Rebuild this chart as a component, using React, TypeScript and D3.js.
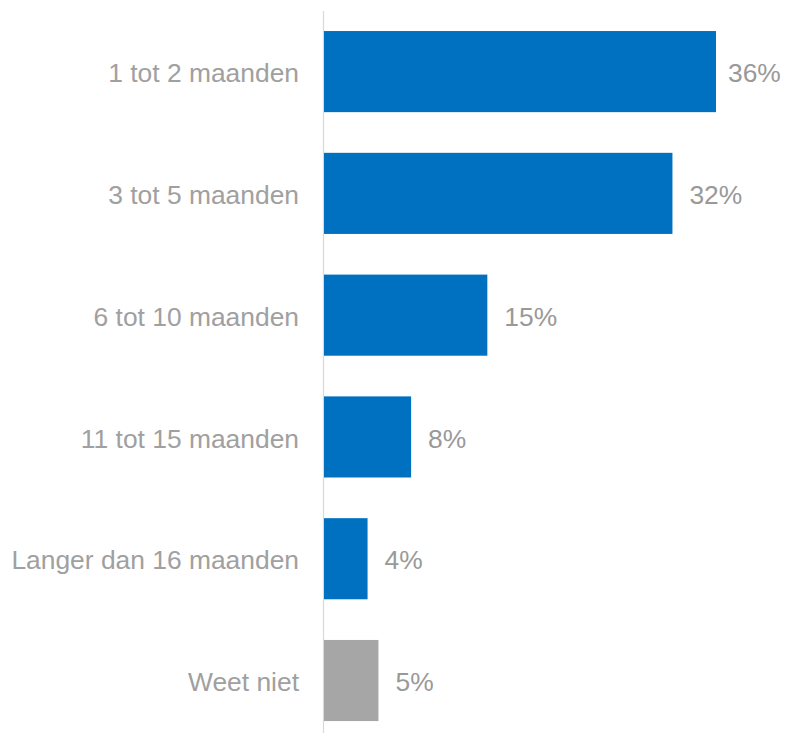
import React from "react";
import * as d3 from "d3";

const categories: string[] = [
  "1 tot 2 maanden",
  "3 tot 5 maanden",
  "6 tot 10 maanden",
  "11 tot 15 maanden",
  "Langer dan 16 maanden",
  "Weet niet",
];
const values: number[] = [36, 32, 15, 8, 4, 5];
const barColors: string[] = ["#0070C0", "#0070C0", "#0070C0", "#0070C0", "#0070C0", "#A6A6A6"];

const W = 786;
const H = 733;
const AXIS_X = 324;
const FONT = "'Liberation Sans', Arial, sans-serif";
const FS = 26.4;

export default function App() {
  const x = d3.scaleLinear().domain([0, 36]).range([AXIS_X, 716]);
  const y = d3
    .scaleBand<string>()
    .domain(categories)
    .range([10.7, 741.4])
    .paddingInner(0.334)
    .paddingOuter(0.167);

  return (
    <svg
      width={W}
      height={H}
      style={{ position: "absolute", left: 0, top: 0, background: "#fff" }}
      fontFamily={FONT}
    >
      <line x1={AXIS_X - 0.5} x2={AXIS_X - 0.5} y1={11} y2={H} stroke="#D9D9D9" strokeWidth={1.2} />
      {categories.map((c, i) => {
        const yy = y(c)!;
        const bh = y.bandwidth();
        const cy = yy + bh / 2;
        const lx = Math.min(x(values[i]) + 17, W - 58);
        return (
          <g key={c}>
            <rect x={x(0)} y={yy} width={x(values[i]) - x(0)} height={bh} fill={barColors[i]} />
            <text x={299} y={cy} dy="0.4em" textAnchor="end" fontSize={FS} fill="#A0A0A0">
              {c}
            </text>
            <text x={lx} y={cy} dy="0.4em" fontSize={FS} fill="#999999">
              {values[i]}%
            </text>
          </g>
        );
      })}
    </svg>
  );
}
